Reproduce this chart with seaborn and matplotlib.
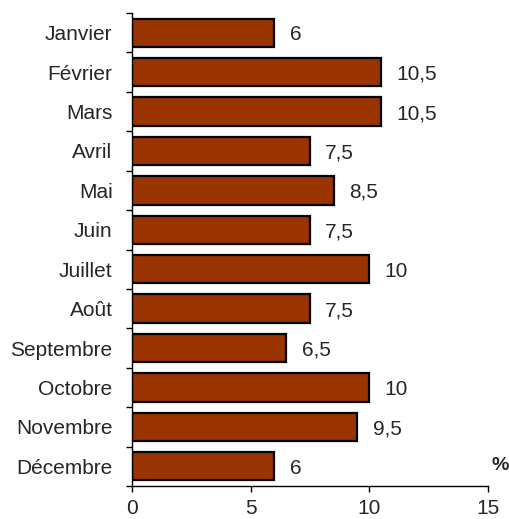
import matplotlib
matplotlib.use("Agg")
import matplotlib.pyplot as plt
import seaborn as sns
import pandas as pd
import numpy as np

months = ["Janvier", "Février", "Mars", "Avril", "Mai", "Juin", "Juillet",
          "Août", "Septembre", "Octobre", "Novembre", "Décembre"]
values = [6, 10.5, 10.5, 7.5, 8.5, 7.5, 10, 7.5, 6.5, 10, 9.5, 6]
x_ticks = [0, 5, 10, 15]

sns.set_style("white")
plt.rcParams["font.family"] = ["Liberation Sans", "DejaVu Sans"]

df = pd.DataFrame({"mois": months, "pct": values})

fig = plt.figure(figsize=(5.10, 5.19), dpi=100)
ax = fig.add_axes([132 / 510, 1 - 486 / 519, (488 - 132) / 510, (486 - 13) / 519])

sns.barplot(data=df, y="mois", x="pct", orient="h", color="#993300",
            edgecolor="black", linewidth=1.6, width=0.72, saturation=1, ax=ax)

for i, v in enumerate(values):
    label = f"{v:g}".replace(".", ",")
    ax.annotate(label, xy=(v, i), xytext=(11, -1.5), textcoords="offset points",
                va="center", ha="left", fontsize=15)

ax.set_xlim(0, 15)
ax.set_ylim(11.5, -0.5)
ax.set_xticks(x_ticks)
ax.set_xticklabels([str(t) for t in x_ticks], fontsize=15)
ax.set_yticks(np.arange(len(months)))
ax.set_yticklabels(months, fontsize=15)
ax.set_yticks(np.arange(-0.5, len(months)), minor=True)
ax.tick_params(axis="y", which="major", length=0, pad=14)
ax.tick_params(axis="y", which="minor", left=True, length=4, width=1, color="black")
ax.tick_params(axis="x", which="major", bottom=True, length=4, width=1, color="black", pad=5.5)
ax.set_xlabel("")
ax.set_ylabel("")

for side in ["top", "right"]:
    ax.spines[side].set_visible(False)
for side in ["left", "bottom"]:
    ax.spines[side].set_color("black")
    ax.spines[side].set_linewidth(1)

fig.text(500 / 510, 1 - 465 / 519, "%", fontsize=14, fontweight="bold",
         ha="center", va="center")

fig.savefig("out.png", dpi=100)
